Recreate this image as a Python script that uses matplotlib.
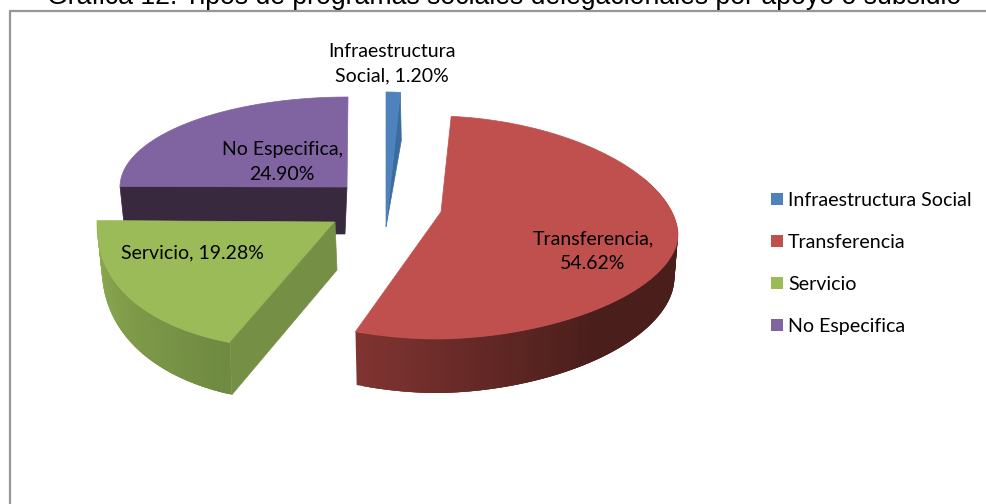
import numpy as np
import matplotlib
matplotlib.use('Agg')
import matplotlib.pyplot as plt
from matplotlib.colors import to_rgb
from matplotlib.patches import Polygon, Rectangle

categorias = ['Infraestructura Social', 'Transferencia', 'Servicio', 'No Especifica']
valores = [1.20, 54.62, 19.28, 24.90]
etiquetas = ['Infraestructura\nSocial, {:.2f}%', 'Transferencia,\n{:.2f}%',
             'Servicio, {:.2f}%', 'No Especifica,\n{:.2f}%']
colores = ['#4f81bd', '#c0504d', '#9bbb59', '#8064a2']
titulo = 'Gráfica 12. Tipos de programas sociales delegacionales por apoyo o subsidio'

# geometria de cada rebanada en pixeles: punta, centro de elipse, radios, profundidad
puntas = [(386, 227), (441, 212), (335, 222), (347, 187)]
centros = [(386, 227), (436, 235), (322, 222), (348, 187)]
radios_x = [190, 242, 225, 228]
radios_arriba = [135, 119, 120, 90]
radios_abajo = [135, 104, 128, 90]
exponentes = [1, 1.07, 0.87, 1]
encoge = [1, 0.985, 0.98, 1]
prof_lado = [48, 44, 40, 47]
prof_frente = [48, 54, 53, 47]
pos_etiquetas = [(392, 64), (593, 251), (192, 253), (282, 162)]
pos_leyenda = [199, 241, 283, 325]

plt.rcParams['font.family'] = ['Lato', 'DejaVu Sans']

fig = plt.figure(figsize=(9.86, 5.04), dpi=100)
ax = fig.add_axes([0, 0, 1, 1])
ax.set_xlim(0, 986)
ax.set_ylim(504, 0)
ax.axis('off')


def borde(i, t, escala=1.0):
    # punto del arco exterior, t en grados en sentido del reloj desde arriba
    s, c = np.sin(np.radians(t)), np.cos(np.radians(t))
    cx, cy = centros[i]
    p = exponentes[i]
    b = np.where(c > 0, radios_arriba[i], radios_abajo[i])
    return (cx + escala * radios_x[i] * np.sign(s) * np.abs(s) ** p,
            cy - b * np.sign(c) * np.abs(c) ** p)


def base(i, t):
    # mismo punto en la cara inferior de la rebanada
    c = np.clip(-np.cos(np.radians(t)), 0, 1)
    x, y = borde(i, t, encoge[i])
    return x, y + prof_lado[i] + (prof_frente[i] - prof_lado[i]) * c


def mezcla(c1, c2, f):
    return tuple(np.array(to_rgb(c1)) * (1 - f) + np.array(to_rgb(c2)) * f)


def pared(i, t1, t2, c1, c2, f_fin=1.0):
    # pared curva en tiras solapadas, degradado de c1 (en t1) a c2 (en t2)
    ts = np.linspace(t1, t2, 90)
    for k in range(len(ts) - 1):
        a, b = ts[k], ts[min(k + 3, len(ts) - 1)]
        f = min(k / (len(ts) - 2) / f_fin, 1)
        ax.add_patch(Polygon([borde(i, a), borde(i, b), base(i, b), base(i, a)],
                             fc=mezcla(c1, c2, f), ec='none', lw=0, zorder=2 + i))


def superficie(i, t1, t2):
    ts = np.linspace(t1, t2, 120)
    x, y = borde(i, ts)
    pts = [puntas[i]] + list(zip(x, y))
    ax.add_patch(Polygon(pts, fc=colores[i], ec=colores[i], lw=0.5, zorder=2.5 + i))


angulos = np.cumsum([0] + [v * 3.6 for v in valores])

# No Especifica, cara interior oscura
t1, t2 = angulos[3], angulos[4]
x1, y1 = borde(3, t1)
ax.add_patch(Polygon([(x1, y1), puntas[3], (puntas[3][0] - 2, puntas[3][1] + 47), (x1 + 5, y1 + 47)],
                     fc='#38293f', ec='#38293f', lw=0.5, zorder=1.5))
superficie(3, t1, t2)

# Infraestructura Social
t1, t2 = angulos[0], angulos[1]
x2, y2 = borde(0, t2)
ax.add_patch(Polygon([(x2, y2), (x2 + 1, y2 + 48), puntas[0]], fc='#3b6c9f', ec='#3b6c9f', lw=0.5, zorder=1.8))
superficie(0, t1, t2)

# Transferencia
t1, t2 = angulos[1], angulos[2]
pared(1, t2, 60, '#7f3431', '#4a1e1b', f_fin=0.45)
superficie(1, t1, t2)

# Servicio
t1, t2 = angulos[2], angulos[3]
ax.add_patch(Polygon([puntas[2], (puntas[2][0] + 2, puntas[2][1] + 48), base(2, t1), borde(2, t1)],
                     fc='#758f45', ec='#758f45', lw=0.5, zorder=4.6))
pared(2, t1, t2, '#6f8a41', '#8eab50')
superficie(2, t1, t2)

# marco del grafico
ax.plot([986, 9.5, 9.5], [11, 11, 504], color='#969696', lw=1.6, zorder=1)

ax.text(504.5, 4.5, titulo, family='Liberation Sans', fontsize=19.2, ha='center', va='baseline', color='black')

for i, etq in enumerate(etiquetas):
    ax.text(pos_etiquetas[i][0], pos_etiquetas[i][1], etq.format(valores[i]), fontsize=14, ha='center',
            va='center', linespacing=1.55, color='black', zorder=10)

for i, cat in enumerate(categorias):
    ax.add_patch(Rectangle((771, pos_leyenda[i] - 6), 12, 12, fc=colores[i], ec='none'))
    ax.text(788, pos_leyenda[i] + 1.5, cat, fontsize=14.1, ha='left', va='center', color='black')

fig.savefig('out.png', dpi=100)
